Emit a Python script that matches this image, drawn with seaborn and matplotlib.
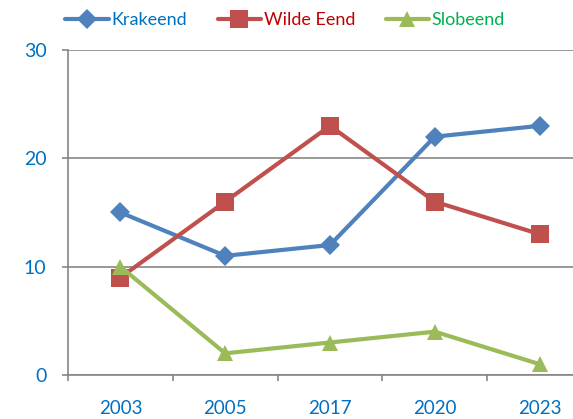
import matplotlib
matplotlib.use("Agg")
import matplotlib.pyplot as plt
import seaborn as sns
import pandas as pd

years = ["2003", "2005", "2017", "2020", "2023"]
krakeend = [15, 11, 12, 22, 23]
wilde_eend = [9, 16, 23, 16, 13]
slobeend = [10, 2, 3, 4, 1]

series_names = ["Krakeend", "Wilde Eend", "Slobeend"]
series_vals = [krakeend, wilde_eend, slobeend]
line_colors = ["#4F81BD", "#C0504D", "#9BBB59"]
text_colors = ["#0070C0", "#C00000", "#00B050"]
markers = ["D", "s", "^"]
msizes = [10, 13, 12]

rows = []
for name, vals in zip(series_names, series_vals):
    for y, v in zip(years, vals):
        rows.append({"Jaar": y, "Aantal": v, "Soort": name})
df = pd.DataFrame(rows)

sns.set_theme(style="white")
plt.rcParams['font.family'] = ['Lato', 'DejaVu Sans']

fig = plt.figure(figsize=(5.73, 4.19), dpi=100)
ax = fig.add_axes([68/573, 44/419, (592-68)/573, 325/419])

for name, col, mk, ms in zip(series_names, line_colors, markers, msizes):
    sub = df[df["Soort"] == name]
    sns.lineplot(data=sub, x="Jaar", y="Aantal", ax=ax, color=col, lw=3,
                 marker=mk, markersize=ms, markeredgewidth=0, label=name,
                 sort=False)

ax.set_xlim(-0.5, 4.5)
ax.set_ylim(0, 30)
ax.set_yticks([0, 10, 20, 30])
ax.set_xticks(range(len(years)))
ax.set_xticklabels(years)
ax.set_xlabel("")
ax.set_ylabel("")
ax.yaxis.grid(True, color="#868686", lw=1.2)
ax.xaxis.grid(False)
for s in ["top", "right"]:
    ax.spines[s].set_visible(False)
for s in ["left", "bottom"]:
    ax.spines[s].set_color("#868686")
    ax.spines[s].set_linewidth(1.2)

ax.tick_params(axis="y", left=True, length=4.5, width=1.2, color="#868686",
               pad=11, labelsize=14, labelcolor="#0070C0")
ax.tick_params(axis="x", bottom=False, pad=12, labelsize=13.5, labelcolor="#0070C0")
ax.set_xticks([i - 0.5 for i in range(len(years) + 1)], minor=True)
ax.tick_params(axis="x", which="minor", bottom=True, length=4.5, width=1.2, color="#868686")

ax.get_legend().remove()
handles, labels = ax.get_legend_handles_labels()
leg = fig.legend(handles, labels, loc="center left", bbox_to_anchor=(58/573, 1 - 20/419),
                 ncol=3, frameon=False, fontsize=13, handlelength=2.4,
                 columnspacing=1.7, handletextpad=0.15, borderaxespad=0)
for t, c in zip(leg.get_texts(), text_colors):
    t.set_color(c)

fig.savefig("out.png", dpi=100)
